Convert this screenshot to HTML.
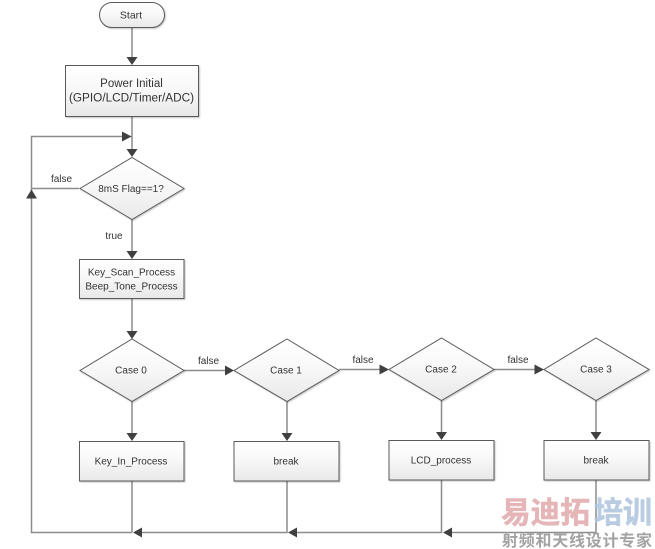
<!DOCTYPE html>
<html><head><meta charset="utf-8">
<style>html,body{margin:0;padding:0;background:#fff}svg{display:block}
text{font-family:"Liberation Sans","Noto Sans CJK SC",sans-serif;font-size:10px;fill:#333;text-anchor:middle}
.l{fill:none;stroke:#8c8c8c;stroke-width:1.5}
.s{stroke:#5a5a5a;stroke-width:1;fill:url(#g);filter:url(#sh)}
.a{fill:#404040}
.w{font-family:"Noto Sans CJK SC",sans-serif;font-weight:bold}
</style></head><body>
<svg width="655" height="549" viewBox="0 0 655 549" xmlns="http://www.w3.org/2000/svg">
<defs>
<linearGradient id="g" x1="0" y1="0" x2="0" y2="1"><stop offset="0" stop-color="#fff"/><stop offset="0.45" stop-color="#f8f8f8"/><stop offset="1" stop-color="#e8e8e8"/></linearGradient>
<filter id="sh" x="-10%" y="-10%" width="125%" height="125%"><feDropShadow dx="1" dy="1" stdDeviation="0.7" flood-color="#000" flood-opacity="0.22"/></filter>
</defs>
<path class="l" d="M132 27V60M132 116V152M132 136.500H31.500V190M79 188.500H31.500V532.500H132M132 219V254M132 298V334M132 401V436M132 481V532.500M184 370.500H228M287 401V436M287 481V532.500H140M339 369.500H383M441.500 400V435M441.500 480V532.500H295M494 369.500H538M596 400V435M596 480V532.500H450"/>
<path class="a" d="M126.500 57H137.500L132 65ZM126.500 149H137.500L132 157ZM126.500 251H137.500L132 259ZM126.500 331H137.500L132 339ZM126.500 433H137.500L132 441ZM281.500 433H292.500L287 441ZM436 432H447L441.500 440ZM590.500 432H601.500L596 440ZM122 131.500V141.500L131.500 136.500ZM26 198.500H37L31.500 189.500ZM225 365.500V375.500L234 370.500ZM379.500 364.500V374.500L389 369.500ZM534.500 364.500V374.500L544 369.500ZM142 527.500V537.500L133 532.500ZM297 527.500V537.500L288 532.500ZM452 527.500V537.500L443 532.500Z"/>
<rect class="s" x="99.500" y="2.500" width="65" height="25" rx="12.500"/>
<rect class="s" x="65.500" y="65.500" width="133" height="51"/>
<path class="s" d="M132 157.500L184 188.500L132 219.500L80 188.500Z"/>
<rect class="s" x="79.500" y="259.500" width="104.500" height="39"/>
<path class="s" d="M132 339L184 370.500L132 401.500L80 370.500Z"/>
<rect class="s" x="79.500" y="441.500" width="104.500" height="39.500"/>
<path class="s" d="M287 339L339 370.500L287 401.500L234 370.500Z"/>
<rect class="s" x="234" y="441.500" width="105" height="39.500"/>
<path class="s" d="M441.500 338L494 369.500L441.500 400.500L389 369.500Z"/>
<rect class="s" x="389" y="440.500" width="105" height="39.500"/>
<path class="s" d="M596 338L649 369.500L596 400.500L544 369.500Z"/>
<rect class="s" x="544" y="440.500" width="105" height="39.500"/>
<text x="131" y="18.500" style="font-size:10.500px">Start</text>
<text x="131.500" y="87" style="font-size:11.500px">Power Initial</text>
<text x="131.500" y="101.500" style="font-size:11.500px" textLength="125" lengthAdjust="spacingAndGlyphs">(GPIO/LCD/Timer/ADC)</text>
<text x="131" y="192">8mS Flag==1?</text>
<text x="61.500" y="182">false</text>
<text x="114" y="239">true</text>
<text x="131.500" y="275.500">Key_Scan_Process</text>
<text x="131.500" y="289.500">Beep_Tone_Process</text>
<text x="131" y="373.500">Case 0</text>
<text x="208.500" y="364">false</text>
<text x="286" y="373.500">Case 1</text>
<text x="363" y="363">false</text>
<text x="441" y="372.500">Case 2</text>
<text x="518" y="363">false</text>
<text x="596" y="372.500">Case 3</text>
<text x="131" y="464.500">Key_In_Process</text>
<text x="286" y="464.500">break</text>
<text x="441" y="463.500">LCD_process</text>
<text x="596" y="463.500">break</text>
<text class="w" x="545.500" y="523" style="font-size:30px;fill:#e3aeb0;stroke:#e3aeb0;stroke-width:.6" textLength="89" lengthAdjust="spacingAndGlyphs" opacity=".9">易迪拓</text>
<text class="w" x="623" y="523" style="font-size:30px;fill:#adc4dd;stroke:#adc4dd;stroke-width:.6" textLength="58" lengthAdjust="spacingAndGlyphs" opacity=".85">培训</text>
<text class="w" x="577" y="546" style="font-size:16px;fill:#a3a3a3" textLength="150" lengthAdjust="spacing">射频和天线设计专家</text>
</svg>
</body></html>
